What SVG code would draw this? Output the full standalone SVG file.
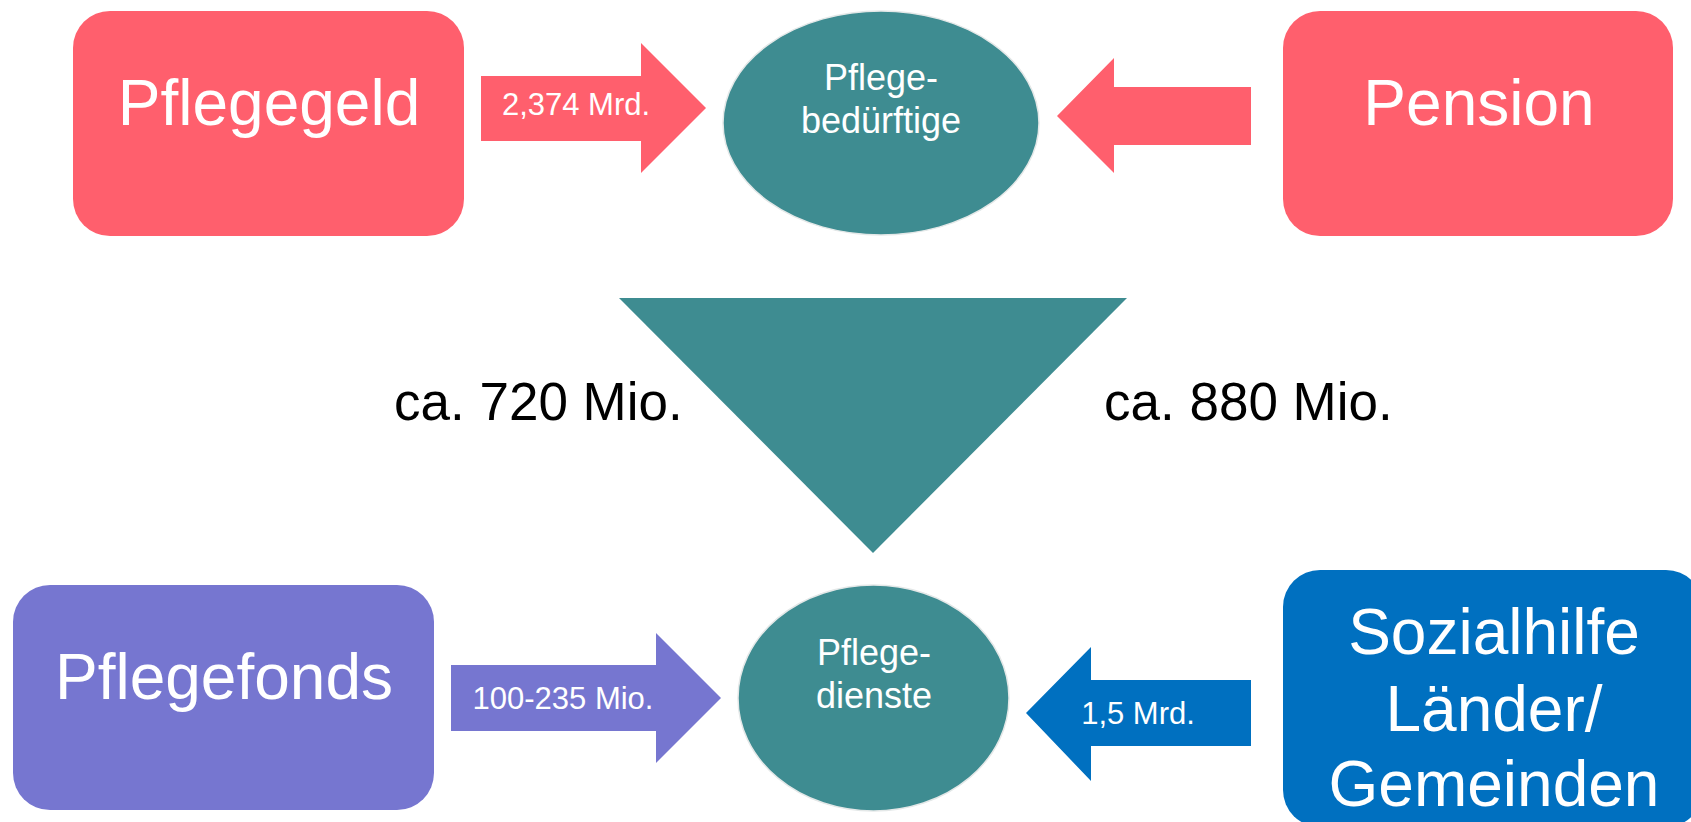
<svg xmlns="http://www.w3.org/2000/svg" width="1691" height="822" viewBox="0 0 1691 822">
  <style>
    .box { stroke: none; }
    .pink { fill: #FF5F6D; }
    .violet { fill: #7676D0; }
    .blue { fill: #0070C0; }
    .teal { fill: #3E8C91; }
    .oval { fill: #3E8C91; stroke: #E4E8E8; stroke-width: 1.5; }
    text { font-family: "Liberation Sans", Arial, sans-serif; text-anchor: middle; }
    .big { font-size: 64px; fill: #FFFFFF; }
    .mid { font-size: 36px; fill: #FFFFFF; }
    .lbl { font-size: 31px; fill: #FFFFFF; }
    .side { font-size: 53px; fill: #000000; text-anchor: start; }
  </style>
  <rect width="1691" height="822" fill="#FFFFFF"/>

  <!-- block arrows carrying the amounts -->
  <g id="connectors">
    <g id="arrow-pflegegeld">
      <polygon class="pink" points="481,76 641,76 641,43 706,108 641,173 641,141 481,141"/>
      <text class="lbl" x="576" y="115">2,374 Mrd.</text>
    </g>
    <g id="arrow-pension">
      <polygon class="pink" points="1251,87 1114,87 1114,58 1057,116 1114,173 1114,145 1251,145"/>
    </g>
    <g id="arrow-pflegefonds">
      <polygon class="violet" points="451,665 656,665 656,633 721,698 656,763 656,731 451,731"/>
      <text class="lbl" x="563" y="709">100-235 Mio.</text>
    </g>
    <g id="arrow-sozialhilfe">
      <polygon class="blue" points="1251,680 1091,680 1091,647 1026,713 1091,781 1091,746 1251,746"/>
      <text class="lbl" x="1138" y="724">1,5 Mrd.</text>
    </g>
    <g id="funnel">
      <polygon class="teal" points="619,298 1127,298 873,553"/>
    </g>
  </g>

  <g id="node-pflegegeld">
    <rect class="box pink" x="73" y="11" width="391" height="225" rx="37" ry="37"/>
    <text class="big" x="269" y="125">Pflegegeld</text>
  </g>

  <g id="node-pension">
    <rect class="box pink" x="1283" y="11" width="390" height="225" rx="37" ry="37"/>
    <text class="big" x="1479" y="125">Pension</text>
  </g>

  <g id="node-pflegebeduerftige">
    <ellipse class="oval" cx="881" cy="123" rx="158" ry="112"/>
    <text class="mid" x="881" y="90">Pflege-</text>
    <text class="mid" x="881" y="133">bedürftige</text>
  </g>

  <g id="node-pflegefonds">
    <rect class="box violet" x="13" y="585" width="421" height="225" rx="37" ry="37"/>
    <text class="big" x="224" y="699">Pflegefonds</text>
  </g>

  <g id="node-pflegedienste">
    <ellipse class="oval" cx="873.5" cy="698" rx="135.5" ry="113"/>
    <text class="mid" x="874" y="665">Pflege-</text>
    <text class="mid" x="874" y="708">dienste</text>
  </g>

  <g id="node-sozialhilfe">
    <rect class="box blue" x="1283" y="570" width="420" height="257" rx="37" ry="37"/>
    <text class="big" x="1494" y="654">Sozialhilfe</text>
    <text class="big" x="1494" y="731">Länder/</text>
    <text class="big" x="1494" y="806">Gemeinden</text>
  </g>

  <g id="labels-split">
    <text class="side" x="394" y="420">ca. 720 Mio.</text>
    <text class="side" x="1104" y="420">ca. 880 Mio.</text>
  </g>
</svg>
